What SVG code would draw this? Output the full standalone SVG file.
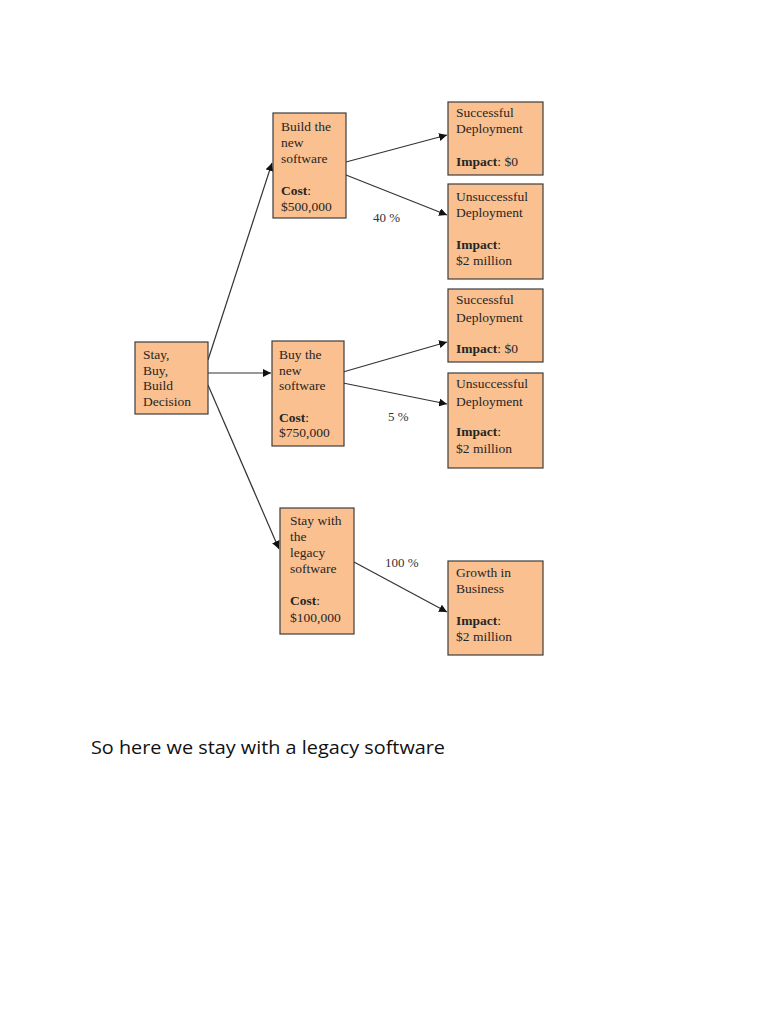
<svg xmlns="http://www.w3.org/2000/svg" width="768" height="1024" viewBox="0 0 768 1024">
<style>
.box{fill:#FAC090;stroke:#3c3c3c;stroke-width:1.2}
.t{font-family:"Liberation Serif","Times New Roman",serif;font-size:13.5px;fill:#262626}
.b{font-weight:bold}
.p{font-family:"Liberation Serif","Times New Roman",serif;font-size:13px;fill:#333}
.c{stroke:#333;stroke-width:1.2;fill:none;marker-end:url(#ah)}
</style>
<defs>
<marker id="ah" viewBox="0 0 10 10" refX="10" refY="5" markerWidth="8" markerHeight="8" markerUnits="userSpaceOnUse" orient="auto">
<path d="M0,0 L10,5 L0,10 z" fill="#111"/>
</marker>
</defs>
<rect width="768" height="1024" fill="#fff"/>
<g id="connectors">
<line class="c" x1="208" y1="360" x2="272" y2="163"/>
<line class="c" x1="208" y1="373" x2="271" y2="373"/>
<line class="c" x1="208" y1="385" x2="279" y2="549"/>
<line class="c" x1="346" y1="162" x2="447" y2="135"/>
<line class="c" x1="346" y1="175" x2="447" y2="215"/>
<line class="c" x1="343" y1="372" x2="447" y2="342"/>
<line class="c" x1="343" y1="383" x2="447" y2="404"/>
<line class="c" x1="354" y1="562" x2="447" y2="612"/>
</g>
<g id="lbl40"><text class="p" x="373" y="222">40 %</text></g>
<g id="lbl5"><text class="p" x="388" y="421">5 %</text></g>
<g id="lbl100"><text class="p" x="385" y="567">100 %</text></g>
<g id="stay">
<rect class="box" x="135" y="342" width="73" height="72"/>
<text class="t" x="143" y="359">Stay,</text>
<text class="t" x="143" y="375">Buy,</text>
<text class="t" x="143" y="390">Build</text>
<text class="t" x="143" y="406">Decision</text>
</g>
<g id="build">
<rect class="box" x="273" y="113" width="73" height="105"/>
<text class="t" x="281" y="131">Build the</text>
<text class="t" x="281" y="147">new</text>
<text class="t" x="281" y="163">software</text>
<text class="t" x="281" y="195"><tspan class="b">Cost</tspan>:</text>
<text class="t" x="281" y="211">$500,000</text>
</g>
<g id="buy">
<rect class="box" x="272" y="341" width="72" height="105"/>
<text class="t" x="279" y="359">Buy the</text>
<text class="t" x="279" y="375">new</text>
<text class="t" x="279" y="390">software</text>
<text class="t" x="279" y="422"><tspan class="b">Cost</tspan>:</text>
<text class="t" x="279" y="437">$750,000</text>
</g>
<g id="legacy">
<rect class="box" x="280" y="508" width="74" height="126"/>
<text class="t" x="290" y="525">Stay with</text>
<text class="t" x="290" y="541">the</text>
<text class="t" x="290" y="557">legacy</text>
<text class="t" x="290" y="573">software</text>
<text class="t" x="290" y="605"><tspan class="b">Cost</tspan>:</text>
<text class="t" x="290" y="622">$100,000</text>
</g>
<g id="succ1">
<rect class="box" x="448" y="102" width="95" height="73"/>
<text class="t" x="456" y="117">Successful</text>
<text class="t" x="456" y="133">Deployment</text>
<text class="t" x="456" y="166"><tspan class="b">Impact</tspan>: $0</text>
</g>
<g id="unsucc1">
<rect class="box" x="448" y="184" width="95" height="95"/>
<text class="t" x="456" y="201">Unsuccessful</text>
<text class="t" x="456" y="217">Deployment</text>
<text class="t" x="456" y="249"><tspan class="b">Impact</tspan>:</text>
<text class="t" x="456" y="265">$2 million</text>
</g>
<g id="succ2">
<rect class="box" x="448" y="289" width="95" height="73"/>
<text class="t" x="456" y="304">Successful</text>
<text class="t" x="456" y="322">Deployment</text>
<text class="t" x="456" y="353"><tspan class="b">Impact</tspan>: $0</text>
</g>
<g id="unsucc2">
<rect class="box" x="448" y="373" width="95" height="95"/>
<text class="t" x="456" y="388">Unsuccessful</text>
<text class="t" x="456" y="406">Deployment</text>
<text class="t" x="456" y="436"><tspan class="b">Impact</tspan>:</text>
<text class="t" x="456" y="453">$2 million</text>
</g>
<g id="growth">
<rect class="box" x="448" y="561" width="95" height="94"/>
<text class="t" x="456" y="577">Growth in</text>
<text class="t" x="456" y="593">Business</text>
<text class="t" x="456" y="625"><tspan class="b">Impact</tspan>:</text>
<text class="t" x="456" y="641">$2 million</text>
</g>
<g id="caption">
<text x="91" y="754" font-family="'Open Sans','Noto Sans',sans-serif" font-size="19" fill="#111" textLength="354" lengthAdjust="spacingAndGlyphs">So here we stay with a legacy software</text>
</g>
</svg>
